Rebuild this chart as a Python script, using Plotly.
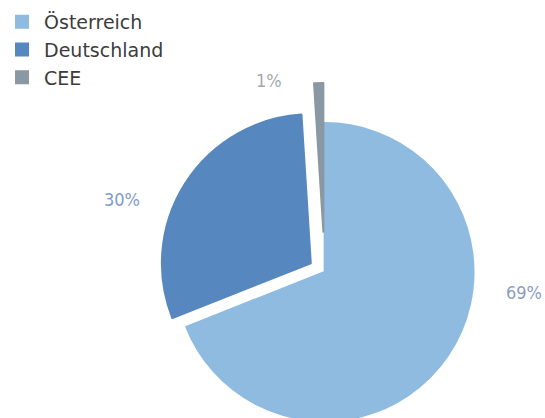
import plotly.graph_objects as go

# Regional split of the portfolio (percent)
regions = ["Österreich", "Deutschland", "CEE"]
shares = [69, 30, 1]
slice_colors = ["#8fbbe0", "#5787bf", "#8a98a3"]
label_colors = ["#8d9cbc", "#809bc8", "#a4a9ae"]
pulls = [0.0, 0.11, 0.27]

W, H = 545, 470          # page is taller than the view so the pie runs off the bottom edge
cx, cy, r = 323, 272, 150
box = r * (1 + max(pulls))   # half side of the pie domain box (plotly shrinks r by the max pull)

def px(x):
    return x / W

def py(y):
    return 1 - y / H

fig = go.Figure(
    go.Pie(
        labels=regions,
        values=shares,
        sort=False,
        direction="clockwise",
        rotation=0,
        pull=pulls,
        marker=dict(colors=slice_colors, line=dict(width=2, color=slice_colors)),
        textinfo="none",
        hoverinfo="label+percent",
        domain=dict(x=[px(cx - box), px(cx + box)], y=[py(cy + box), py(cy - box)]),
    )
)

# value labels placed beside each slice
label_pos = [(524, 292), (119, 199), (267, 80)]
for name, v, c, (lx, ly) in zip(regions, shares, label_colors, label_pos):
    fig.add_annotation(
        x=px(lx), y=py(ly), xref="paper", yref="paper",
        text=f"{v}%", showarrow=False,
        font=dict(family="DejaVu Sans Condensed", size=18, color=c),
        xanchor="center", yanchor="middle",
    )

fig.update_layout(
    width=W, height=H,
    margin=dict(l=0, r=0, t=0, b=0),
    paper_bgcolor="white",
    plot_bgcolor="white",
    showlegend=True,
    legend=dict(
        x=px(-4), y=py(3), xanchor="left", yanchor="top",
        font=dict(family="DejaVu Sans", size=19, color="#3c3c3c"),
        bgcolor="rgba(0,0,0,0)",
        itemwidth=34,
        tracegroupgap=0,
    ),
)

fig.write_html(
    "out.html",
    post_script="document.documentElement.style.overflow='hidden';document.body.style.overflow='hidden';",
)
